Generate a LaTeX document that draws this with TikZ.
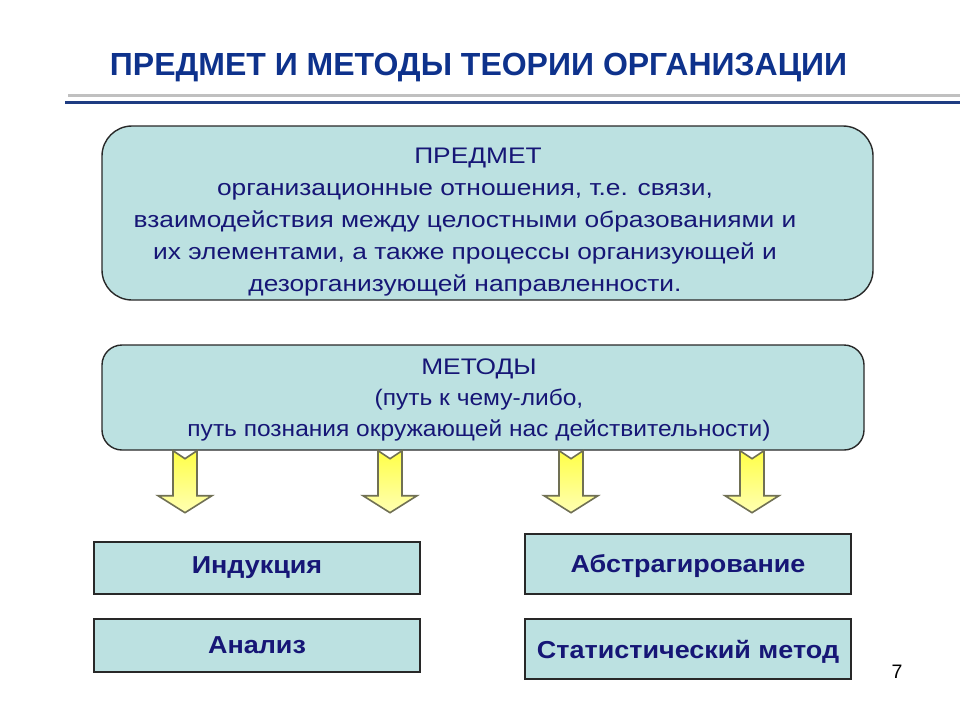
\documentclass[tikz,border=0pt]{standalone}
\usepackage{fontspec}
\setmainfont{Liberation Sans}
\newfontfamily\bodyfont[FakeStretch=1.17]{Liberation Sans}
\newfontfamily\methodsfont[FakeStretch=1.09]{Liberation Sans}
\newfontfamily\leaffont[FakeStretch=1.1]{Liberation Sans}
\usetikzlibrary{positioning}
\definecolor{boxfill}{RGB}{188,225,225}
\definecolor{boxline}{RGB}{40,40,40}
\definecolor{textnavy}{RGB}{22,22,118}
\definecolor{titleblue}{RGB}{14,50,140}
\definecolor{rulegrey}{RGB}{192,192,192}
\definecolor{ruleblue}{RGB}{30,60,130}
\definecolor{arrowline}{RGB}{112,112,84}

\tikzset{downarrow/.pic={
    \draw[arrowline, line width=1.6pt, line join=miter, top color=yellow!72, bottom color=yellow!30]
      (-12,0) -- (0,8) -- (12,0) -- (12,45) -- (27,45) -- (0,62) -- (-27,45) -- (-12,45) -- cycle;
}}

\begin{document}
\begin{tikzpicture}[x=1pt, y=-1pt,
    topicbox/.style={draw=boxline, fill=boxfill, line width=1.4pt},
    topictext/.style={align=center, text=textnavy, font=\bodyfont\fontsize{22.5}{32}\selectfont},
    leafbox/.style={draw=boxline, fill=boxfill, line width=2pt, minimum width=326pt, text=textnavy, font=\leaffont\bfseries\fontsize{24.5}{28}\selectfont},]
  \useasboundingbox (0,0) rectangle (960,720);

  \node[anchor=base, text=titleblue, font=\bfseries\fontsize{32}{38}\selectfont] (title) at (478.5,75) {ПРЕДМЕТ И МЕТОДЫ ТЕОРИИ ОРГАНИЗАЦИИ};
  \draw[rulegrey, line width=3.5pt] (68,95.5) -- (960,95.5);
  \draw[ruleblue, line width=3pt] (65,102.5) -- (960,102.5);

  \node[topicbox, rounded corners=30pt, minimum width=771pt, minimum height=174pt] (subject) at (487.5,213) {};
  \node[topictext] (subjecttext) at (465,222) {\hspace*{26pt}ПРЕДМЕТ\\ организационные отношения, т.е. связи,\\ взаимодействия между целостными образованиями и\\ их элементами, а также процессы организующей и\\ дезорганизующей направленности.};

  \node[topicbox, rounded corners=20pt, minimum width=762pt, minimum height=105pt] (methods) at (483,397.5) {};
  \node[topictext, font=\methodsfont\fontsize{22.5}{31}\selectfont] (methodstext) at (479,400) {{\bodyfont МЕТОДЫ}\\ (путь к чему-либо,\\ путь познания окружающей нас действительности)};

  \foreach \x in {185,390,571,752}
    \pic at (\x,0 |- methods.south) {downarrow};

  \node[leafbox, minimum height=52pt] (induction) at (257,568) {Индукция};
  \node[leafbox, minimum height=53pt, below=23pt of induction] (analysis) {Анализ};
  \node[leafbox, minimum height=60pt, text depth=0pt] (abstraction) at (688,564) {Абстрагирование};
  \node[leafbox, minimum height=60pt, text depth=0pt, below=23pt of abstraction] (statistics) {Статистический метод};

  \node[font=\fontsize{19.5}{22}\selectfont] (pagenum) at (897,672) {7};
\end{tikzpicture}
\end{document}
